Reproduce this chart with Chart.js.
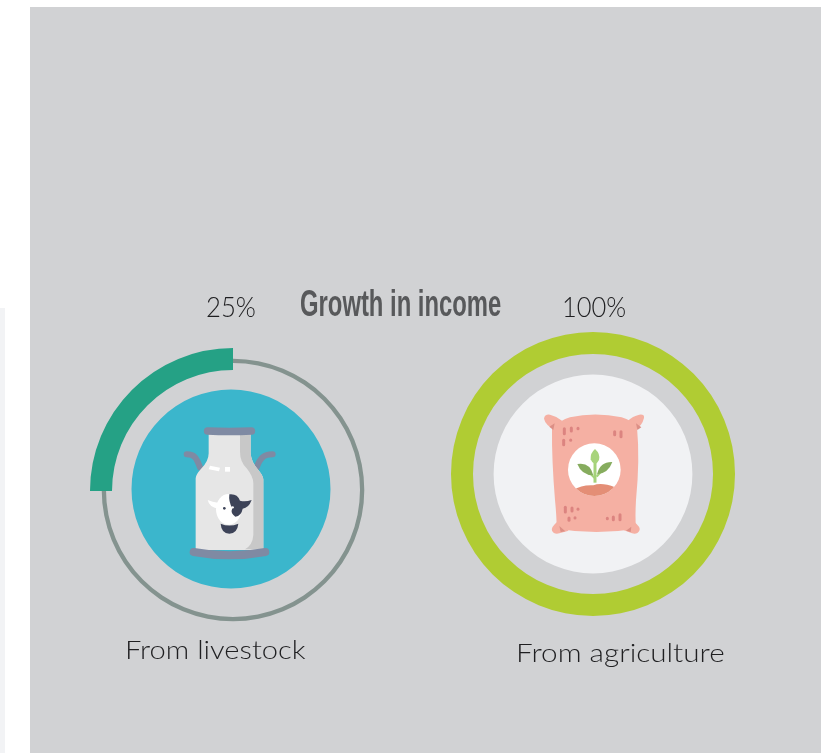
<!DOCTYPE html>
<html lang="en">
<head>
<meta charset="utf-8">
<title>Growth in income</title>
<script src="https://cdn.jsdelivr.net/npm/chart.js@4"></script>
<style>
  html, body { margin: 0; padding: 0; background: #fff; overflow: hidden; }
  #stage { position: relative; width: 827px; height: 753px; overflow: hidden; }
  #panel { position: absolute; left: 30px; top: 7px; width: 791px; height: 746px; background: #d1d2d4; }
  #strip { position: absolute; left: 0; top: 308px; width: 5px; height: 445px; background: #f2f3f5; }
  canvas { position: absolute; }
  svg { position: absolute; }
  .label { position: absolute; white-space: nowrap; font-family: Lato, "Open Sans", sans-serif; font-weight: 300;
           color: #1f1f21; transform-origin: 0 0; line-height: 1; }
  #title { font-family: "Liberation Sans", sans-serif; font-weight: 700; color: #58595b; }
</style>
</head>
<body>
<div id="stage">
  <div id="panel"></div>
  <div id="strip"></div>
  <div id="charts"></div>

  <!-- Milk can icon -->
  <svg style="left:180px;top:420px" width="100" height="145" viewBox="0 0 300 435">
    <g fill="none" stroke="#7f8aa3" stroke-linecap="round">
      <path d="M20 103 C45 103 50 115 60 142" stroke-width="18"/>
      <path d="M278 103 C250 103 240 115 230 142" stroke-width="18"/>
    </g>
    <path d="M86 38 L212 38 L212 100 Q213 125 235 150 Q250 168 250 178 L250 390 L47 390 L47 175 Q47 165 62 148 Q86 125 86 100 Z" fill="#e6e6e6"/>
    <path d="M180 38 L212 38 L212 100 Q213 125 235 150 Q250 168 250 178 L250 388 L195 388 Q218 375 220 345 L220 190 Q220 170 200 145 Q180 125 180 95 Z" fill="#c8c8c8"/>
    <path d="M83 33 Q148 36 214 33" fill="none" stroke="#7f8aa3" stroke-width="23" stroke-linecap="round"/>
    <path d="M41 396 Q148 416 256 396" fill="none" stroke="#7f8aa3" stroke-width="24" stroke-linecap="round"/>
    <path d="M90 137 L120 143 L117 154 L86 148 Z" fill="#fff"/>
    <rect x="135" y="141" width="15" height="14" fill="#fff"/>
    <ellipse cx="146" cy="268" rx="38" ry="46" fill="#fff"/>
    <path d="M114 248 Q98 246 83 240 Q88 262 114 266 Z" fill="#fff"/>
    <path d="M148 223 Q172 220 180 242 Q196 246 215 240 Q206 264 188 266 Q184 288 166 290 Q150 280 157 265 Q145 245 148 223 Z" fill="#3d4358"/>
    <path d="M122 311 Q148 322 175 311 Q172 340 148 341 Q124 340 122 311 Z" fill="#3d4358"/>
    <circle cx="133" cy="265" r="4" fill="#3d4358"/>
    <circle cx="158" cy="262" r="3.5" fill="#fff"/>
  </svg>

  <!-- Sack of seed icon -->
  <svg style="left:540px;top:410px" width="110" height="130" viewBox="0 0 330 390">
    <defs><clipPath id="seal"><circle cx="163" cy="179" r="79"/></clipPath></defs>
    <g fill="#f5b0a3">
      <path d="M46 60 Q16 46 12 26 Q14 12 30 14 Q48 18 66 32 Z"/>
      <path d="M282 60 Q306 50 312 24 Q314 12 298 14 Q278 18 262 34 Z"/>
      <path d="M52 335 Q32 352 36 362 Q42 374 58 370 L86 362 Z"/>
      <path d="M282 335 Q304 352 298 362 Q292 374 276 370 L250 360 Z"/>
      <path d="M36 58 Q60 30 90 22 Q165 5 245 22 Q275 30 291 52 Q300 150 288 270 Q285 320 288 356 Q170 376 50 356 Q50 320 45 270 Q35 150 36 58 Z"/>
    </g>
    <g fill="#dc8f86">
      <path d="M28 50 L44 40 L40 60 Z"/>
      <path d="M288 40 L304 52 L292 60 Z"/>
      <path d="M58 348 L76 364 L62 366 Z"/>
      <path d="M274 350 L258 362 L272 366 Z"/>
    </g>
    <g stroke="#dc8480" stroke-width="9" stroke-linecap="round" fill="none">
      <path d="M73 56 V71"/><path d="M94 54 V63"/><path d="M114 55 V56"/>
      <path d="M71 91 V104"/><path d="M92 90 V91"/>
      <path d="M224 65 V74"/><path d="M243 65 V80"/>
      <path d="M76 292 V306"/><path d="M96 294 V303"/><path d="M114 297 V298"/>
      <path d="M87 324 V331"/><path d="M105 323 V324"/>
      <path d="M202 325 V326"/><path d="M220 321 V329"/><path d="M240 314 V329"/>
    </g>
    <circle cx="163" cy="179" r="79" fill="#fff"/>
    <g clip-path="url(#seal)">
      <path d="M100 240 Q125 224 160 226 Q185 216 225 232 L225 270 L100 270 Z" fill="#e48e76"/>
    </g>
    <path d="M165 150 V218" stroke="#a5d27a" stroke-width="9" fill="none"/>
    <path d="M165 205 Q150 190 135 178 M170 200 Q182 185 198 172" stroke="#a5d27a" stroke-width="6" fill="none"/>
    <path d="M165 117 Q182 132 177 150 Q172 160 165 162 Q155 158 152 148 Q150 130 165 117 Z" fill="#a8d47c"/>
    <path d="M112 162 Q150 155 160 196 Q125 196 112 162 Z" fill="#86ac5e"/>
    <path d="M217 156 Q180 155 171 193 Q205 190 217 156 Z" fill="#86ac5e"/>
  </svg>

  <div class="label" id="title"></div>
  <div class="label" id="pct0"></div>
  <div class="label" id="pct1"></div>
  <div class="label" id="cat0"></div>
  <div class="label" id="cat1"></div>
</div>

<script>
// Income growth by source, in percent of the full ring
const chartTitle = 'Growth in income';
const categories = ['From livestock', 'From agriculture'];
const growth = [25, 100];
const valueLabels = ['25%', '100%'];
const fullRing = [100];

const ringColors = ['#25a185', '#b0cc33'];
const trackColor = '#84938f';
const discColors = ['#3bb6cc', '#f1f2f4'];

const CANVAS = 300;

// Places one doughnut on its own canvas, centred on (cx, cy)
function ring(cx, cy, outer, inner, data, colors, rotation) {
  const canvas = document.createElement('canvas');
  canvas.width = CANVAS;
  canvas.height = CANVAS;
  canvas.style.left = (cx - CANVAS / 2) + 'px';
  canvas.style.top = (cy - CANVAS / 2) + 'px';
  canvas.style.width = CANVAS + 'px';
  canvas.style.height = CANVAS + 'px';
  document.getElementById('charts').appendChild(canvas);
  return new Chart(canvas, {
    type: 'doughnut',
    data: { datasets: [{ data: data, backgroundColor: colors, borderWidth: 0 }] },
    options: {
      responsive: false,
      animation: false,
      radius: outer,
      cutout: (inner / outer * 100) + '%',
      rotation: rotation,
      layout: { padding: 0 },
      plugins: { legend: { display: false }, tooltip: { enabled: false } },
      events: []
    }
  });
}

// Livestock: thin track, blue disc, progress arc ending at twelve o'clock
ring(233, 489.5, 131.3, 127, fullRing, [trackColor], 0);
ring(231.2, 489.4, 99.5, 0, fullRing, [discColors[0]], 0);
ring(233, 490.5, 143, 121, [growth[0], 100 - growth[0]], [ringColors[0], 'rgba(0,0,0,0)'], 270);

// Agriculture: full ring around a pale disc
ring(593.3, 473.8, 99.4, 0, fullRing, [discColors[1]], 0);
ring(593.2, 473.9, 142, 120, [growth[1], 100 - growth[1]], [ringColors[1], 'rgba(0,0,0,0)'], 0);

// Text blocks: x, y, size and the horizontal / vertical stretch of each run
function place(id, text, x, y, size, sx, sy) {
  const el = document.getElementById(id);
  el.textContent = text;
  el.style.left = x + 'px';
  el.style.top = y + 'px';
  el.style.fontSize = size + 'px';
  el.style.transform = 'scale(' + sx + ',' + sy + ')';
}
place('title', chartTitle, 300, 285, 32, 0.745, 1.15);
place('pct0', valueLabels[0], 206, 293, 25, 1.03, 1.08);
place('pct1', valueLabels[1], 562, 293, 25, 1.02, 1.08);
place('cat0', categories[0], 124.5, 636, 26, 1.12, 1);
place('cat1', categories[1], 515.5, 639, 26, 1.142, 1);
</script>
</body>
</html>
